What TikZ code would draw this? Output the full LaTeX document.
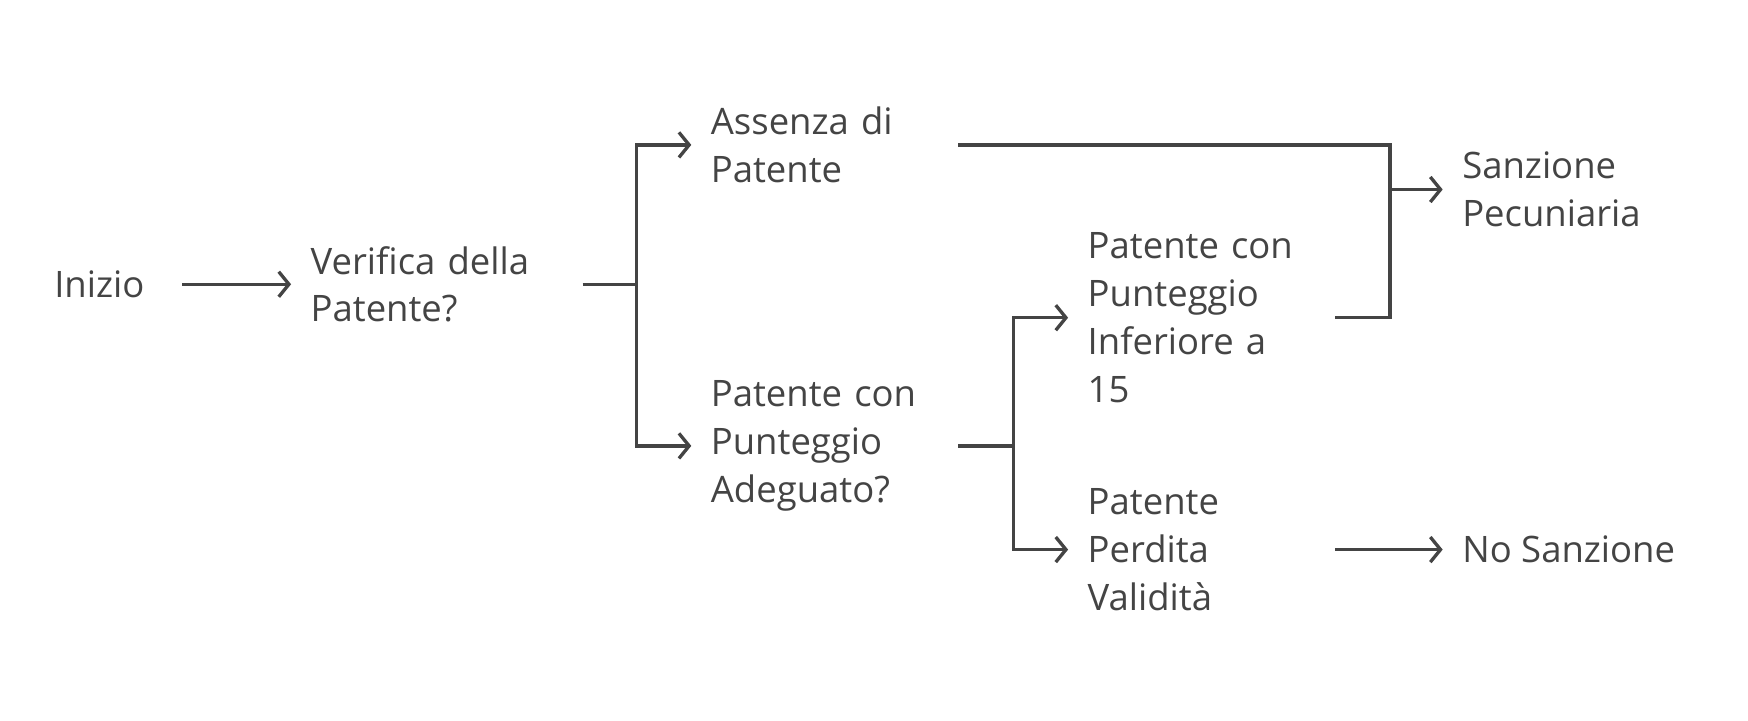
\documentclass[tikz,border=0pt]{standalone}
\usepackage{fontspec}
\setmainfont{Open Sans}
\usetikzlibrary{arrows.meta,calc,positioning}
\definecolor{ink}{RGB}{68,68,68}
\tikzset{
  step box/.style={inner sep=0pt, align=left, anchor=west, text=ink,
    font=\fontsize{9.3}{12.2}\selectfont},
  link/.style={draw=ink, line width=0.85pt},
  flow/.style={link, -{Straight Barb[length=2.6pt,width=6.4pt]}, shorten >=4.8pt}
}
\begin{document}
\begin{tikzpicture}[x=0.01cm,y=0.01cm]
  \useasboundingbox (0,0) rectangle (1568,646);
  % nodes
  \node[step box, text width=1.14cm] (inizio) at (48,391) {Inizio};
  \node[step box, text width=2.43cm] (verifica) at (278,391) {Verifica della\\Patente?};
  \node[step box, text width=2.21cm] (assenza) at (637,516) {Assenza di\\Patente};
  \node[step box, text width=2.21cm] (adeguato) at (637,246) {Patente con\\Punteggio\\Adeguato?};
  \node[step box, text width=2.21cm] (inferiore) at (975,361) {Patente con\\Punteggio\\Inferiore a\\15};
  \node[step box, text width=2.21cm] (perdita) at (975,153) {Patente\\Perdita\\Validit\`a};
  \node[step box] (pecuniaria) at (1311,476) {Sanzione\\Pecuniaria};
  \node[step box] (nosanz) at (1311,153) {No Sanzione};
  % junctions
  \coordinate (j1) at (571,391);
  \coordinate (j2) at (909,246);
  \coordinate (j3) at (1247,476);
  % connectors
  \draw[flow] (inizio.east) -- (verifica.west);
  \draw[link] (verifica.east) -- (j1);
  \draw[flow] (j1) |- (assenza.west);
  \draw[flow] (j1) |- (adeguato.west);
  \draw[link] (adeguato.east) -- (j2);
  \draw[flow] (j2) |- (inferiore.west);
  \draw[flow] (j2) |- (perdita.west);
  \draw[link] (assenza.east) -| (j3);
  \draw[link] (inferiore.east) -| (j3);
  \draw[flow] (j3) -- (pecuniaria.west);
  \draw[flow] (perdita.east) -- (nosanz.west);
\end{tikzpicture}
\end{document}
